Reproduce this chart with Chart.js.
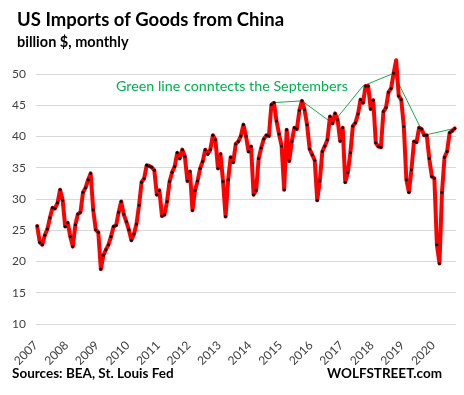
<!DOCTYPE html>
<html>
<head>
<meta charset="utf-8">
<script src="https://cdn.jsdelivr.net/npm/chart.js@4.4.1/dist/chart.umd.min.js"></script>
<style>
  html, body { margin: 0; padding: 0; background: #fff; }
</style>
</head>
<body>
<canvas id="importsChart" width="464" height="395"></canvas>
<script>
// monthly US imports of goods from China, billion $, Jan 2007 .. Sep 2020
let monthlyImports = [
    25.7, 23.1, 22.7, 24.2, 25.2, 27.0, 28.6, 28.5, 29.4, 31.5, 29.8, 25.6, // 2007
    26.2, 24.0, 22.4, 25.9, 27.6, 27.9, 31.1, 31.8, 33.1, 34.1, 28.3, 25.1, // 2008
    24.7, 18.8, 21.0, 21.9, 22.7, 24.0, 25.6, 25.8, 27.9, 29.6, 27.6, 26.4, // 2009
    25.1, 23.4, 24.4, 26.0, 29.0, 32.7, 33.3, 35.4, 35.3, 35.1, 34.6, 30.7, // 2010
    31.4, 27.3, 27.5, 29.6, 32.8, 34.3, 35.2, 37.4, 36.5, 37.9, 36.8, 32.9, // 2011
    34.4, 28.2, 31.4, 32.9, 34.9, 36.0, 37.9, 37.2, 37.9, 40.2, 39.5, 34.9, // 2012
    37.2, 32.8, 27.2, 33.1, 36.7, 35.9, 38.8, 39.2, 40.1, 41.9, 40.1, 37.6, // 2013
    38.4, 30.7, 31.4, 36.5, 38.2, 39.6, 40.2, 40.1, 45.1, 45.4, 42.5, 40.4, // 2014
    38.5, 31.5, 41.1, 36.1, 39.2, 41.4, 41.2, 44.2, 45.7, 44.3, 41.9, 38.0, // 2015
    37.1, 36.2, 29.8, 32.9, 37.6, 38.5, 39.5, 43.2, 42.1, 43.7, 42.7, 39.3, // 2016
    41.4, 32.7, 34.2, 37.4, 41.7, 42.2, 43.6, 45.9, 45.4, 48.1, 48.1, 44.4, // 2017
    45.8, 39.0, 38.4, 38.3, 44.0, 44.6, 47.1, 47.7, 50.1, 52.2, 46.5, 45.9, // 2018
    41.6, 33.1, 31.1, 34.7, 39.2, 39.1, 41.4, 41.2, 40.2, 40.2, 36.5, 33.6, // 2019
    33.3, 22.7, 19.7, 31.1, 36.7, 37.6, 40.6, 40.9, 41.3                    // 2020
];

// green line, Sep 2014 .. Sep 2020
let septemberLine = [45.4, 45.7, 42.1, 48.1, 50.1, 40.2, 41.3];
let firstSeptember = 92; // month index of Sep 2014

let years = [2007, 2008, 2009, 2010, 2011, 2012, 2013, 2014, 2015, 2016, 2017, 2018, 2019, 2020];
let yTicks = [10, 15, 20, 25, 30, 35, 40, 45, 50];

let redPoints = monthlyImports.map(function (v, i) { return { x: i, y: v }; });
let greenPoints = septemberLine.map(function (v, k) { return { x: firstSeptember + 12 * k, y: v }; });

let textPlugin = {
    id: 'texts',
    afterDraw: function (chart) {
        let ctx = chart.ctx;
        let area = chart.chartArea;
        ctx.save();
        ctx.textBaseline = 'alphabetic';
        ctx.fillStyle = '#000';
        ctx.textAlign = 'left';
        ctx.font = 'bold 18.5px Lato';
        ctx.fillText('US Imports of Goods from China', 17, 26);
        ctx.font = 'bold 14.5px Lato';
        ctx.fillText('billion $, monthly', 17, 47);
        ctx.font = 'bold 13.5px Lato';
        ctx.fillText('Sources: BEA, St. Louis Fed', 12, 378);
        ctx.textAlign = 'right';
        ctx.fillText('WOLFSTREET.com', 442, 378);
        ctx.textAlign = 'left';
        ctx.fillStyle = '#00b050';
        ctx.font = '14.3px Lato';
        ctx.fillText('Green line conntects the Septembers', 116, area.top + 17);
        ctx.restore();
    }
};

let ctx = document.getElementById('importsChart').getContext('2d');
window.importsChart = new Chart(ctx, {
    type: 'line',
    data: {
        datasets: [{
            data: redPoints,
            borderColor: '#ff0000',
            borderWidth: 4,
            borderJoinStyle: 'round',
            borderCapStyle: 'round',
            pointRadius: 1.5,
            pointBackgroundColor: '#000',
            pointBorderWidth: 0,
            tension: 0,
            clip: false,
            order: 1
        }, {
            data: greenPoints,
            borderColor: '#1aa84a',
            borderWidth: 1,
            pointRadius: 0,
            tension: 0,
            clip: false,
            order: 2
        }]
    },
    options: {
        responsive: false,
        animation: false,
        layout: { padding: { left: 2, right: 8, top: 74, bottom: 21 } },
        plugins: {
            legend: { display: false },
            tooltip: { enabled: false }
        },
        scales: {
            x: {
                type: 'linear',
                min: -0.5,
                max: monthlyImports.length - 0.5,
                afterBuildTicks: function (axis) {
                    axis.ticks = years.map(function (y, k) { return { value: -0.5 + 12 * k }; });
                },
                grid: { display: false },
                border: { display: false },
                ticks: {
                    autoSkip: false,
                    minRotation: 45,
                    maxRotation: 45,
                    padding: 6,
                    color: '#404040',
                    font: { family: 'Lato', size: 12 },
                    callback: function (value, index) { return years[index]; }
                }
            },
            y: {
                min: 10,
                max: 50,
                afterBuildTicks: function (axis) {
                    axis.ticks = yTicks.map(function (v) { return { value: v }; });
                },
                grid: { color: '#d9d9d9', drawTicks: false },
                border: { display: false },
                ticks: {
                    padding: 10,
                    color: '#404040',
                    font: { family: 'Lato', size: 12 }
                }
            }
        }
    },
    plugins: [textPlugin]
});
</script>
</body>
</html>
